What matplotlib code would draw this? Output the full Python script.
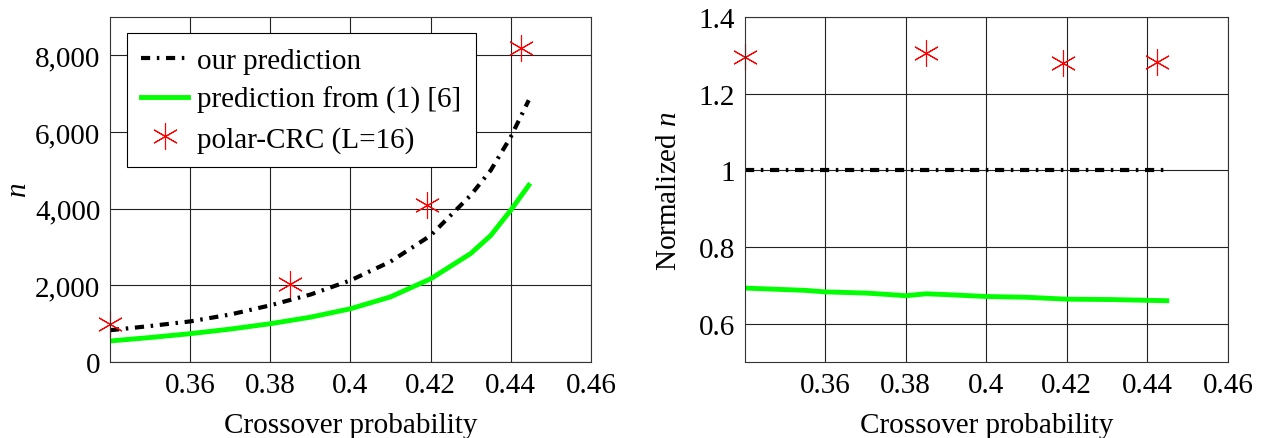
import matplotlib.pyplot as plt
from matplotlib.ticker import FuncFormatter

plt.rcParams['font.family'] = ['Liberation Serif', 'DejaVu Serif']
plt.rcParams['mathtext.fontset'] = 'custom'
plt.rcParams['mathtext.rm'] = 'Liberation Serif'
plt.rcParams['mathtext.it'] = 'Liberation Serif:italic'

# left panel: absolute block length n
p_curve = [0.34, 0.35, 0.36, 0.37, 0.38, 0.39, 0.40, 0.41, 0.42, 0.43, 0.435, 0.44, 0.4445]
n_ours = [830, 940, 1060, 1240, 1480, 1760, 2130, 2620, 3300, 4350, 5000, 5870, 6830]
n_ref = [550, 640, 740, 860, 1000, 1170, 1390, 1700, 2170, 2830, 3300, 3960, 4610]

p_sim = [0.34, 0.385, 0.419, 0.4425]
n_sim = [1000, 2040, 4100, 8190]

# right panel: normalized by our prediction
p_norm = [0.34, 0.355, 0.36, 0.37, 0.376, 0.38, 0.385, 0.39, 0.40, 0.41, 0.42, 0.431, 0.44, 0.4448]
norm_ref = [0.693, 0.687, 0.683, 0.680, 0.676, 0.673, 0.678, 0.676, 0.671, 0.669, 0.664, 0.663, 0.661, 0.660]
norm_ours = [1.0] * len(p_norm)
norm_sim = [1.295, 1.306, 1.280, 1.283]

x_ticks = [0.36, 0.38, 0.40, 0.42, 0.44, 0.46]
x_ticklabels = ['0.36', '0.38', '0.4', '0.42', '0.44', '0.46']

FS = 21
star = (6, 2, 0)
dashdot = [2.2, 1.6, 0.6, 1.6]

fig = plt.figure(figsize=(12.62, 4.39), dpi=100)
ax1 = fig.add_axes([0.0872, 0.173, 0.381, 0.786])
ax2 = fig.add_axes([0.590, 0.173, 0.383, 0.786])


def style(ax):
    ax.set_xlim(0.34, 0.46)
    ax.set_xticks(x_ticks)
    ax.set_xticklabels(x_ticklabels)
    ax.grid(True, color='#222222', linewidth=0.8)
    ax.set_axisbelow(True)
    ax.tick_params(length=0, labelsize=FS, pad=7)
    for s in ax.spines.values():
        s.set_linewidth(0.8)
        s.set_color('#333333')
    ax.set_xlabel('Crossover probability', fontsize=FS, labelpad=10)


ax1.plot(p_curve, n_ours, color='black', lw=3, dashes=dashdot, label='our prediction')
ax1.plot(p_curve, n_ref, color='#00ff00', lw=3.5, label='prediction from (1) [6]')
ax1.plot(p_sim, n_sim, linestyle='none', marker=star, markersize=19, markeredgewidth=0.8,
         color='red', label='polar-CRC (L=16)', clip_on=False)
style(ax1)
ax1.set_ylim(0, 9000)
ax1.set_yticks([0, 2000, 4000, 6000, 8000])
ax1.yaxis.set_major_formatter(FuncFormatter(lambda v, _: f'{int(v):,}'))
ax1.set_ylabel('$n$', fontsize=FS, labelpad=2)
leg = ax1.legend(loc='upper left', bbox_to_anchor=(0.035, 0.954), fontsize=FS, fancybox=False,
                 framealpha=1, edgecolor='black', borderpad=0.5, labelspacing=0.42,
                 handlelength=1.6, handletextpad=0.3, borderaxespad=0)
leg.get_frame().set_linewidth(0.8)

ax2.plot(p_norm, norm_ours, color='black', lw=3, dashes=dashdot)
ax2.plot(p_norm, norm_ref, color='#00ff00', lw=3.5)
ax2.plot(p_sim, norm_sim, linestyle='none', marker=star, markersize=19, markeredgewidth=0.8,
         color='red', clip_on=False)
style(ax2)
ax2.set_ylim(0.5, 1.4)
ax2.set_yticks([0.6, 0.8, 1.0, 1.2, 1.4])
ax2.set_yticklabels(['0.6', '0.8', '1', '1.2', '1.4'])
ax2.set_ylabel('Normalized $n$', fontsize=FS, labelpad=12)

fig.savefig('out.png', dpi=100)
